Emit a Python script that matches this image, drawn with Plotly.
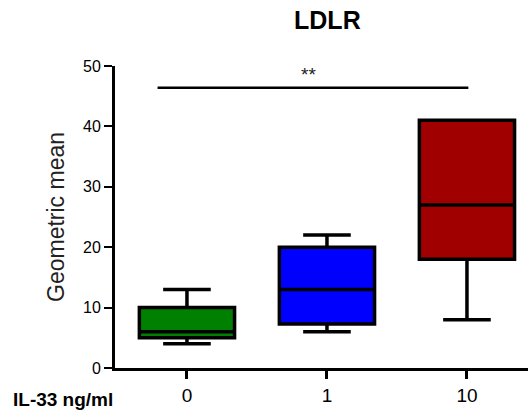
import plotly.graph_objects as go

categories = ["0", "1", "10"]
positions = [0, 1, 2]
lower = [4.0, 6.0, 8.0]
q1 = [5.0, 7.3, 18.0]
median = [6.0, 13.0, 27.0]
q3 = [10.0, 20.0, 41.0]
upper = [13.0, 22.0, 41.0]
colors = ["#008000", "#0000ff", "#a00000"]
y_ticks = [0, 10, 20, 30, 40, 50]

fig = go.Figure()
for i in range(len(categories)):
    fig.add_trace(go.Box(
        x=[positions[i]],
        q1=[q1[i]], median=[median[i]], q3=[q3[i]],
        lowerfence=[lower[i]], upperfence=[upper[i]],
        fillcolor=colors[i],
        line=dict(color="black", width=3.5),
        width=0.68,
        whiskerwidth=0.5,
        boxpoints=False,
        showlegend=False,
        hoverinfo="skip",
    ))

# significance bar
fig.add_shape(type="line", xref="x", yref="y", x0=-0.21, x1=2.01, y0=46.4, y1=46.4,
              line=dict(color="black", width=2.5))
fig.add_annotation(x=0.87, y=46.5, xref="x", yref="y", text="**", showarrow=False,
                   yanchor="bottom", font=dict(size=19, color="#222222"))

fig.update_layout(
    width=528, height=412,
    margin=dict(l=115, r=0, t=66, b=44),
    paper_bgcolor="white", plot_bgcolor="white",
    font=dict(family="Liberation Sans, Arial", color="black"),
    title=dict(text="<b>LDLR</b>", x=0.62, xanchor="center", y=0.95, yanchor="middle",
               font=dict(size=25, color="black")),
)
fig.update_xaxes(
    range=[-0.514, 2.436], tickmode="array", tickvals=positions, ticktext=categories,
    showline=True, linecolor="black", linewidth=3, ticks="outside", ticklen=8,
    tickwidth=3, tickcolor="black", showgrid=False, zeroline=False,
    tickfont=dict(size=19, color="black"),
)
fig.update_yaxes(
    range=[0, 50], tickvals=y_ticks, showline=True, linecolor="black", linewidth=3,
    ticks="outside", ticklen=8, tickwidth=2, tickcolor="black", showgrid=False,
    zeroline=False, tickfont=dict(size=16, color="black"),
    title=dict(text="Geometric mean", font=dict(size=23, color="#222222"), standoff=12),
)
fig.add_annotation(x=0, y=-0.105, xref="paper", yref="paper", xanchor="right",
                   xshift=-0, text="<b>IL-33 ng/ml</b>", showarrow=False,
                   yanchor="middle", font=dict(size=19, color="black"))
fig.write_html("out.html", config={"displayModeBar": False},
               post_script="document.body.style.margin='0';document.body.style.overflow='hidden';")
